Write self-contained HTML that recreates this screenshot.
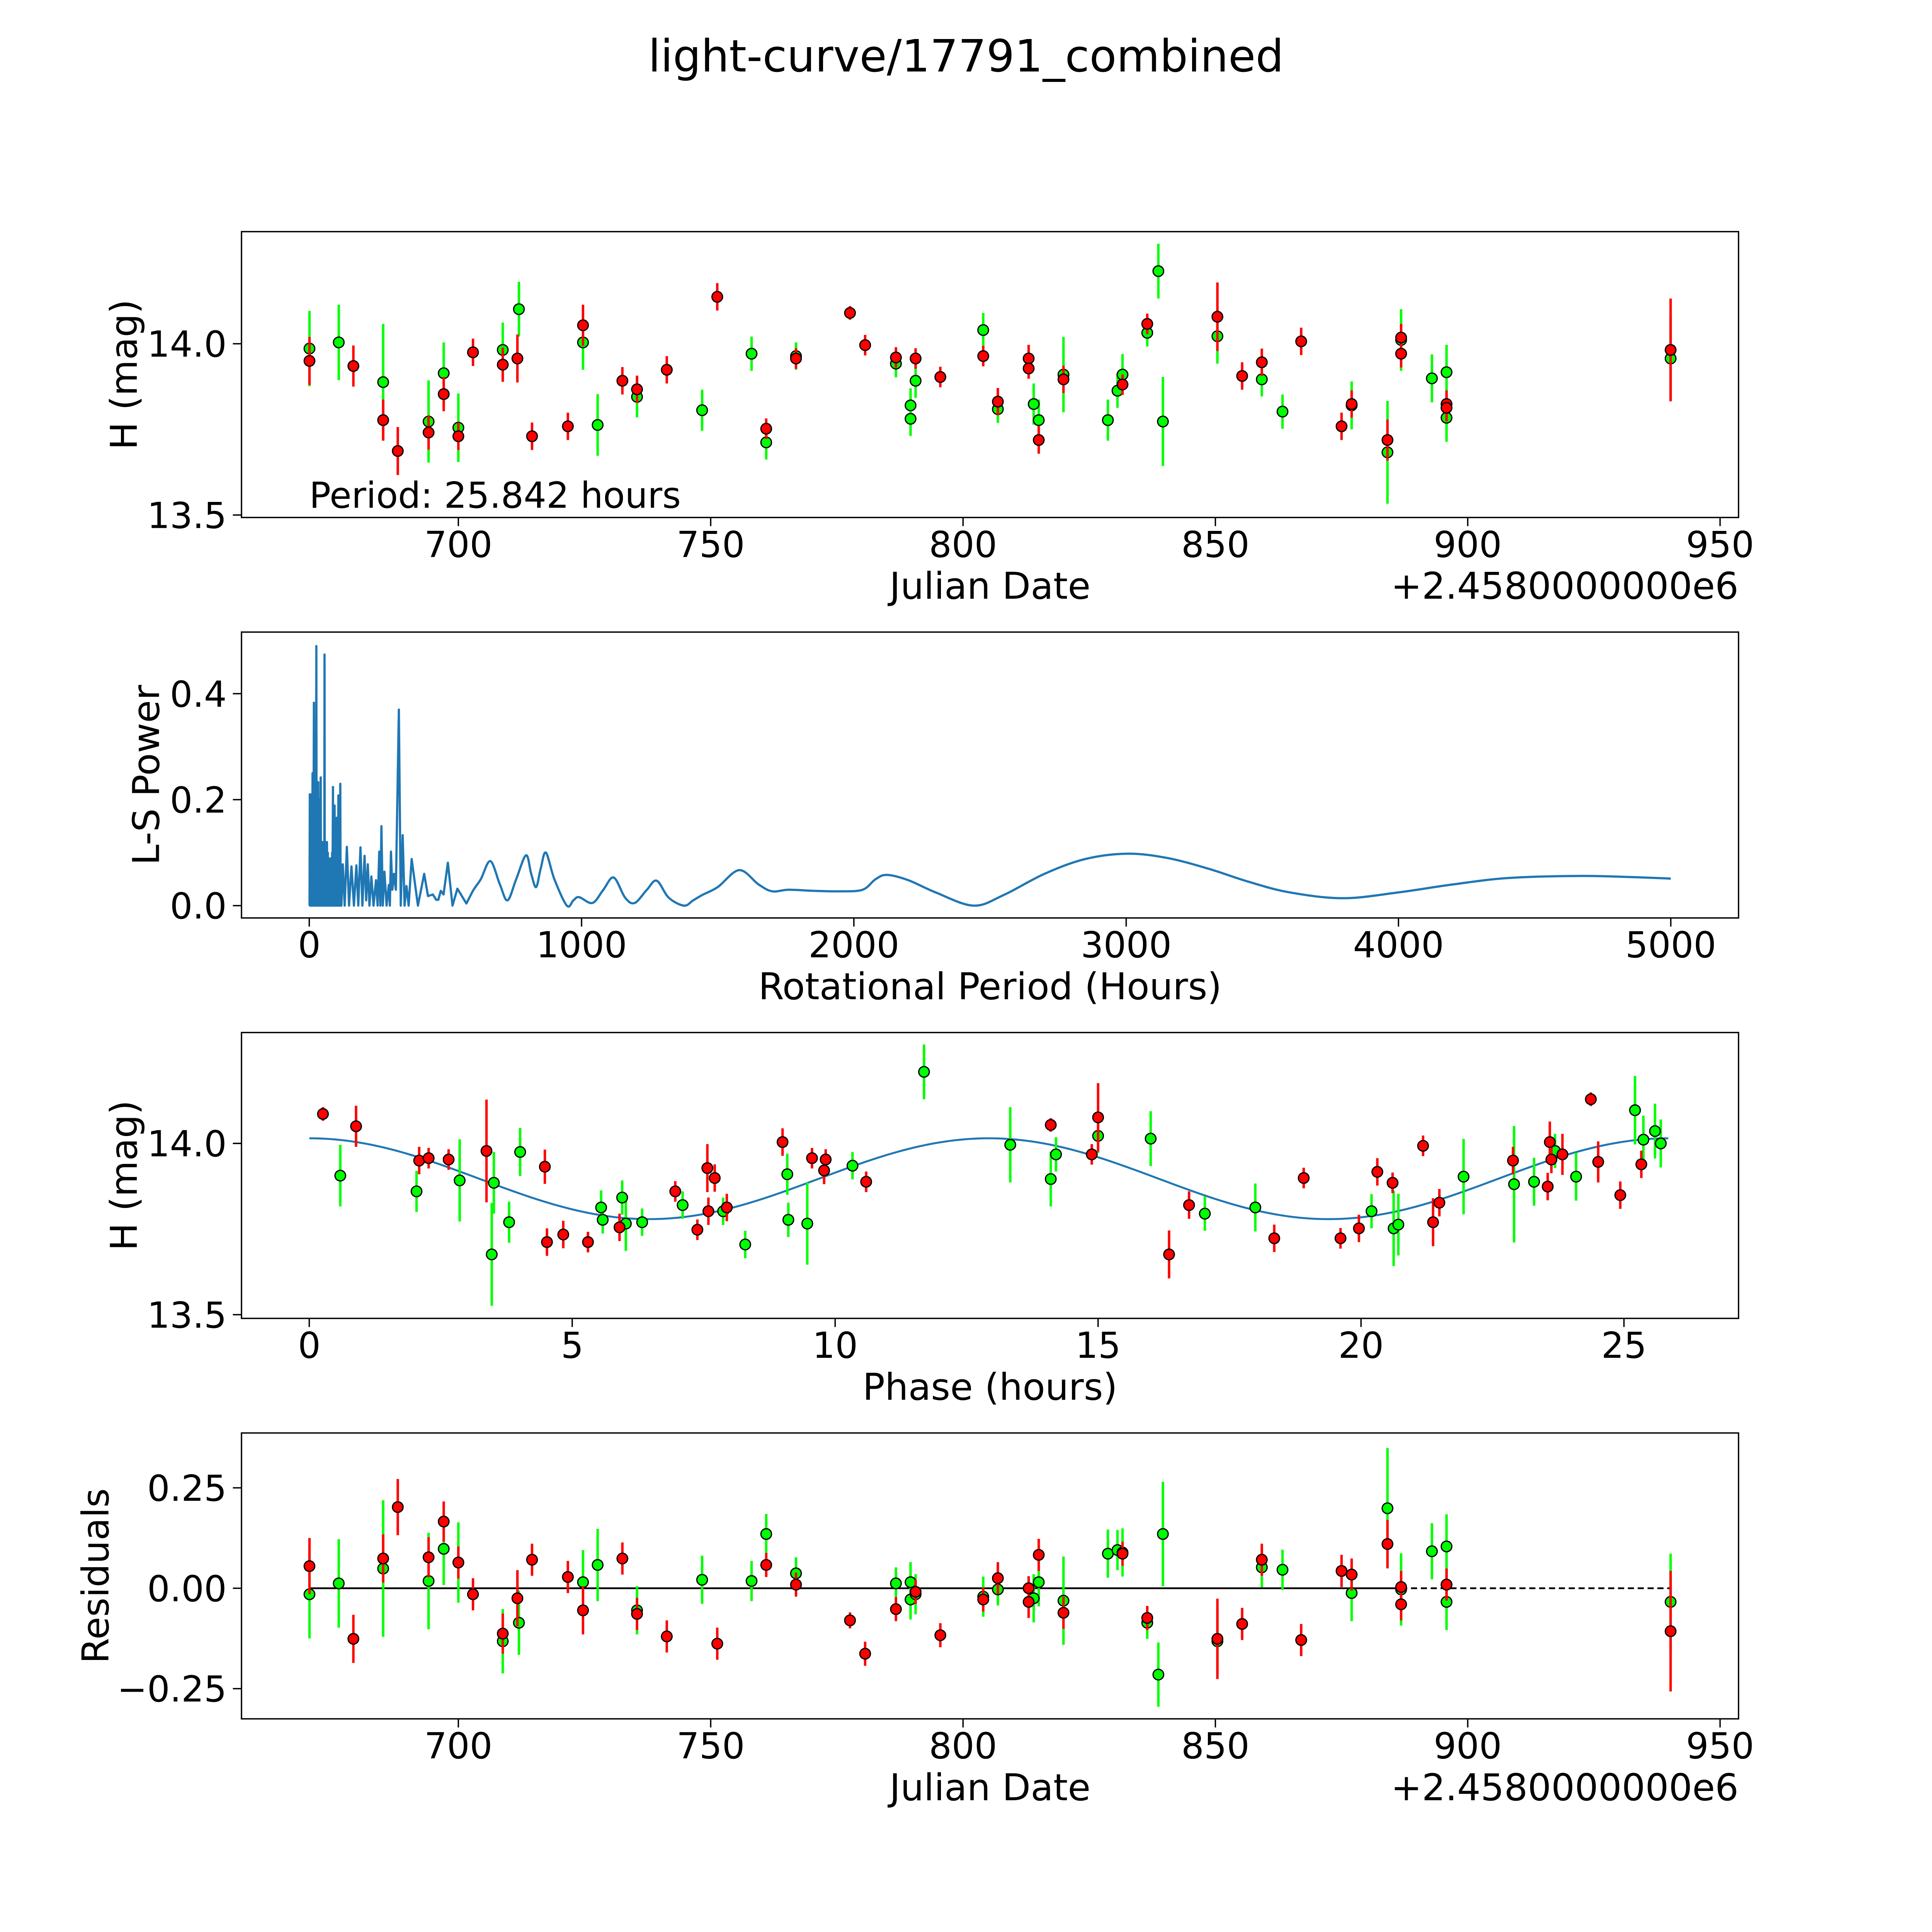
<!DOCTYPE html>
<html><head><meta charset="utf-8"><style>
html,body{margin:0;padding:0;background:#fff;overflow:hidden;}
svg{display:block;width:100vw;height:100vh;font-family:"DejaVu Sans","Liberation Sans",sans-serif;}
</style></head><body>
<svg id="fig" xmlns="http://www.w3.org/2000/svg" viewBox="0 0 1568 1568" preserveAspectRatio="none">
<rect x="0" y="0" width="1568" height="1568" fill="#fff"/>
<text x="784" y="58" font-size="36" text-anchor="middle">light-curve/17791_combined</text>
</svg>
<script>
// ---------- Panel 1: light curve ----------
const lcGreenDate=[670.5,676.3,685.1,694.1,697.1,700,708.8,712.0,724.7,727.6,735.4,748.3,758.1,761.0,766.9,786.7,789.6,789.6,790.6,804.0,806.9,814.0,815.0,819.9,828.7,830.6,831.6,836.5,838.7,839.6,850.4,859.2,863.3,877.0,884.1,886.8,892.9,895.8,895.8,940.2];
const lcGreenMag=[13.986,14.004,13.888,13.773,13.914,13.755,13.982,14.101,14.004,13.763,13.845,13.806,13.971,13.712,13.964,13.942,13.820,13.781,13.892,14.040,13.809,13.824,13.777,13.910,13.777,13.863,13.910,14.032,14.212,13.773,14.022,13.896,13.802,13.820,13.683,14.011,13.899,13.917,13.784,13.957];
const lcGreenErr=[0.11,0.11,0.17,0.12,0.09,0.1,0.08,0.08,0.08,0.09,0.06,0.06,0.05,0.05,0.04,0.04,0.05,0.05,0.05,0.05,0.04,0.06,0.06,0.11,0.06,0.05,0.06,0.04,0.08,0.13,0.08,0.05,0.05,0.07,0.15,0.09,0.07,0.08,0.07,0.12];
const lcRedDate=[670.5,679.2,685.1,688.0,694.1,697.1,700,702.9,708.8,711.7,714.6,721.7,724.7,732.5,735.4,741.3,751.3,761.0,766.9,777.6,780.6,786.7,790.6,795.5,804.0,806.9,813.0,813.0,815.0,819.9,831.6,836.5,850.4,855.3,859.2,867.0,875.0,877.0,884.1,886.8,886.8,895.8,895.8,940.2];
const lcRedMag=[13.950,13.935,13.777,13.687,13.741,13.853,13.730,13.975,13.939,13.957,13.730,13.759,14.054,13.892,13.867,13.924,14.137,13.752,13.957,14.090,13.996,13.960,13.957,13.903,13.964,13.831,13.957,13.928,13.719,13.896,13.881,14.058,14.079,13.906,13.946,14.007,13.759,13.824,13.719,14.018,13.971,13.824,13.813,13.982];
const lcRedErr=[0.07,0.06,0.06,0.07,0.05,0.05,0.04,0.04,0.05,0.07,0.04,0.04,0.06,0.04,0.04,0.04,0.04,0.03,0.03,0.02,0.03,0.03,0.03,0.03,0.03,0.04,0.04,0.03,0.04,0.04,0.03,0.03,0.1,0.04,0.04,0.04,0.04,0.04,0.06,0.04,0.04,0.04,0.04,0.15];
const lcXTicks=[700,750,800,850,900,950];
const lcYTicks=[13.5,14.0];
// ---------- Panel 2: periodogram ----------
const pgPeriod=[1,2,3,4,5,6,7,8,9,10,11,12,13,14,15,17,18,20,21,23,24,26,27,29,30,32,33,34,36,37,39,40,42,43,45,46,48,49,51,52,54,55,56,57,59,60,62,63,65,66,68,69,71,72,75,76,78,79,81,82,84,85,87,88,90,91,93,94,96,97,99,100,101,102,104,105,107,108,110,111,114,115,117,118,
123,130,138,146,155,164,173,180,188,195,203,209,215,221,228,236,245,251,257,261,265,270,276,284,292,296,300,305,311,318,329,336,343,350,357,365,376,399,422,436,454,466,474,483,493,509,526,544,577,601,
630,665,700,728,760,796,815,833,850,869,900,946,970,991,1040,1080,1118,1160,1195,1240,1276,1320,1376,1410,1443,1500,1579,1650,1700,1760,1850,1950,2032,2080,2122,2200,2300,2439,2550,2700,2850,3005,3150,3300,3450,3600,3796,4000,4200,4400,4656,4850,5000];
const pgPower=[0.0,0.21,0.0,0.2,0.0,0.21,0.0,0.19,0.0,0.21,0.0,0.25,0.0,0.22,0.0,0.383,0.0,0.2,0.0,0.22,0.0,0.49,0.0,0.2,0.0,0.18,0.233,0.0,0.2,0.0,0.15,0.0,0.242,0.0,0.12,0.0,0.12,0.0,0.1,0.0,0.11,0.0,0.474,0.0,0.12,0.0,0.11,0.0,0.12,0.0,0.1,0.0,0.09,0.0,0.088,0.0,0.08,0.0,0.09,0.0,0.1,0.0,0.224,0.0,0.15,0.0,0.189,0.0,0.15,0.0,0.13,0.0,0.166,0.0,0.12,0.0,0.208,0.0,0.15,0.0,0.23,0.0,0.05,0.0,
0.078,0.0,0.111,0.0,0.074,0.0,0.076,0.0,0.11,0.0,0.094,0.01,0.078,0.0,0.055,0.0,0.048,0.0,0.102,0.0,0.15,0.0,0.064,0.0,0.039,0.0,0.102,0.03,0.06,0.03,0.37,0.0,0.133,0.0,0.037,0.0,0.088,0.0,0.06,0.018,0.021,0.011,0.011,0.028,0.021,0.081,0.0,0.032,0.004,0.028,
0.05,0.084,0.04,0.01,0.05,0.095,0.06,0.035,0.07,0.1,0.05,0.0,0.01,0.016,0.005,0.03,0.053,0.015,0.005,0.03,0.047,0.015,0.0,0.01,0.02,0.035,0.067,0.04,0.027,0.03,0.028,0.027,0.03,0.05,0.058,0.048,0.025,0.0,0.02,0.06,0.088,0.098,0.09,0.07,0.045,0.025,0.014,0.025,0.04,0.052,0.056,0.054,0.051];
const pgSmoothFrom=601;
const pgXTicks=[0,1000,2000,3000,4000,5000];
const pgYTicks=[0.0,0.2,0.4];
// ---------- Panel 3: phased ----------
const phRedPhase=[0.26,0.89,2.09,2.27,2.65,3.37,4.48,4.52,4.83,5.30,5.90,6.96,7.38,7.57,7.71,7.59,7.94,9.00,9.56,9.79,9.82,10.59,14.10,14.88,15.00,16.35,16.73,18.35,18.91,19.61,19.96,20.31,20.60,21.18,21.37,21.49,22.89,23.59,23.62,23.83,24.37,24.51,24.93,25.33,23.55];
const phRedMag=[14.086,14.050,13.950,13.957,13.953,13.978,13.932,13.712,13.734,13.712,13.755,13.860,13.748,13.928,13.899,13.802,13.813,14.004,13.957,13.921,13.953,13.888,14.054,13.968,14.076,13.676,13.820,13.723,13.899,13.723,13.752,13.917,13.885,13.993,13.770,13.827,13.950,14.004,13.953,13.968,14.129,13.946,13.849,13.939,13.874];
const phRedErr=[0.02,0.06,0.04,0.03,0.03,0.15,0.05,0.04,0.04,0.03,0.04,0.03,0.03,0.07,0.04,0.04,0.04,0.04,0.03,0.04,0.03,0.03,0.02,0.03,0.1,0.07,0.04,0.04,0.03,0.03,0.04,0.04,0.03,0.03,0.07,0.04,0.04,0.06,0.04,0.06,0.02,0.06,0.04,0.04,0.04];
const phGreenPhase=[0.59,2.04,2.86,3.47,3.51,3.80,4.01,5.55,5.58,5.95,6.02,6.33,7.10,7.87,8.29,9.09,9.11,9.47,10.33,11.69,13.33,14.10,14.20,15.00,16.00,17.03,17.99,20.20,20.62,20.71,21.95,22.91,23.29,23.69,24.09,25.21,25.37,25.59,25.70];
const phGreenMag=[13.906,13.860,13.892,13.676,13.885,13.770,13.975,13.813,13.777,13.842,13.766,13.770,13.820,13.802,13.705,13.910,13.777,13.766,13.935,14.209,13.996,13.896,13.968,14.022,14.014,13.795,13.813,13.802,13.752,13.763,13.903,13.881,13.888,13.978,13.903,14.097,14.011,14.036,14.000];
const phGreenErr=[0.09,0.06,0.12,0.15,0.09,0.06,0.07,0.05,0.04,0.05,0.08,0.04,0.04,0.04,0.04,0.06,0.05,0.12,0.04,0.08,0.11,0.08,0.05,0.05,0.08,0.05,0.07,0.05,0.11,0.09,0.11,0.17,0.07,0.05,0.07,0.1,0.07,0.08,0.07];
const modelPeriod=25.842, modelMean=13.897, modelAmp=0.118;
const phXTicks=[0,5,10,15,20,25];
const phYTicks=[13.5,14.0];
// ---------- Panel 4: residuals ----------
const resGreen=[-0.015,0.012,0.049,0.018,0.098,0.064,-0.132,-0.086,0.015,0.058,-0.055,0.021,0.018,0.135,0.037,0.012,0.015,-0.028,-0.015,-0.021,-0.003,-0.025,0.015,-0.031,0.086,0.095,0.089,-0.086,-0.215,0.135,-0.132,0.052,0.046,-0.012,0.199,-0.003,0.092,0.104,-0.034,-0.034];
const resRed=[0.055,-0.126,0.074,0.202,0.077,0.166,0.064,-0.015,-0.113,-0.025,0.071,0.028,-0.055,0.074,-0.064,-0.120,-0.138,0.058,0.009,-0.080,-0.163,-0.052,-0.009,-0.117,-0.028,0.025,-0.034,0.0,0.083,-0.061,0.086,-0.074,-0.126,-0.089,0.071,-0.129,0.043,0.034,0.110,-0.040,0.003,0.009,0.009,-0.107];
const resXTicks=[700,750,800,850,900,950];
const resYTicks=[-0.25,0.0,0.25];
const resYTickLabels=["\u22120.25","0.00","0.25"];

const NS="http://www.w3.org/2000/svg";
const svg=document.getElementById('fig');
function mk(tag,attrs,parent){const e=document.createElementNS(NS,tag);for(const k in attrs)e.setAttribute(k,attrs[k]);(parent||svg).appendChild(e);return e;}
function lin(d0,d1,p0,p1){return v=>p0+(v-d0)*(p1-p0)/(d1-d0);}

function axes(name,box,sx,sy,xt,yt,xtl,ytl,xlabel,ylabel,ylabX,offset){
  const g=mk('g',{});
  
  
  xt.forEach((v,i)=>{const x=sx(v);
    const t=mk('line',{x1:x,x2:x,y1:box[3],y2:box[3]+7,stroke:'#000','stroke-width':1.1},g);
    
    
    const l=mk('text',{x:x,y:box[3]+32,'font-size':29,'text-anchor':'middle'},g);l.textContent=xtl?xtl[i]:String(v);
    
    });
  yt.forEach((v,i)=>{const y=sy(v);
    const t=mk('line',{x1:box[0]-7,x2:box[0],y1:y,y2:y,stroke:'#000','stroke-width':1.1},g);
    
    
    const l=mk('text',{x:box[0]-12,y:y+10.5,'font-size':29,'text-anchor':'end'},g);l.textContent=ytl?ytl[i]:v.toFixed(1);
    
    });
  const xl=mk('text',{x:(box[0]+box[2])/2,y:box[3]+66,'font-size':30,'text-anchor':'middle'},g);xl.textContent=xlabel;
  
  
  const cy=(box[1]+box[3])/2;
  const yl=mk('text',{x:0,y:0,'font-size':30,'text-anchor':'middle',transform:`translate(${ylabX},${cy}) rotate(-90)`},g);yl.textContent=ylabel;
  
  
  if(offset){const o=mk('text',{x:box[2],y:box[3]+66,'font-size':30,'text-anchor':'end'},g);o.textContent=offset;
    
    }
  return g;
}
function frame(g,box,name){
  const fr=mk('rect',{x:box[0],y:box[1],width:box[2]-box[0],height:box[3]-box[1],fill:'none',stroke:'#000','stroke-width':1.1},g);
  
  
}
function points(g,xs,ys,errs,col,sx,sy,name){
  const pg=mk('g',{},g);
  
  
  xs.forEach((xv,i)=>{const x=sx(xv);
    const e=mk('line',{x1:x,x2:x,y1:sy(ys[i]-errs[i]),y2:sy(ys[i]+errs[i]),stroke:col,'stroke-width':2},pg);
    
    });
  xs.forEach((xv,i)=>{const c=mk('circle',{cx:sx(xv),cy:sy(ys[i]),r:4.3,fill:col,stroke:'#000','stroke-width':1},pg);
    
    });
}

// Panel 1
{const box=[196,188,1411,420];const sx=lin(700,950,372,1396),sy=lin(13.5,14.0,418,279);
 const g=axes('light-curve-axes',box,sx,sy,lcXTicks,lcYTicks,null,null,'Julian Date','H (mag)',box[0]-85,'+2.4580000000e6');
 points(g,lcGreenDate,lcGreenMag,lcGreenErr,'#00ff00',sx,sy,'green-series');
 points(g,lcRedDate,lcRedMag,lcRedErr,'#ff0000',sx,sy,'red-series');
 frame(g,box,'light-curve');
 const t=mk('text',{x:251,y:412,'font-size':29},g);t.textContent='Period: 25.842 hours';
 
 }
// Panel 2
{const box=[196,513,1411,745];const sx=lin(0,5000,251,1356),sy=lin(0,0.4,735,563);
 const g=axes('periodogram-axes',box,sx,sy,pgXTicks,pgYTicks,null,null,'Rotational Period (Hours)','L-S Power',box[0]-67,null);
 const P=pgPeriod.map((p,i)=>[sx(p),sy(pgPower[i])]);
 let d='';
 for(let i=0;i<P.length;i++){
   if(i===0){d+='M'+P[0][0].toFixed(2)+' '+P[0][1].toFixed(2);continue;}
   if(pgPeriod[i-1]<pgSmoothFrom){d+=' L'+P[i][0].toFixed(2)+' '+P[i][1].toFixed(2);continue;}
   const p0=P[Math.max(i-2,0)],p1=P[i-1],p2=P[i],p3=P[Math.min(i+1,P.length-1)];
   const c1x=p1[0]+(p2[0]-p0[0])/6,c1y=p1[1]+(p2[1]-p0[1])/6;
   const c2x=p2[0]-(p3[0]-p1[0])/6,c2y=p2[1]-(p3[1]-p1[1])/6;
   d+=` C${c1x.toFixed(2)} ${c1y.toFixed(2)} ${c2x.toFixed(2)} ${c2y.toFixed(2)} ${p2[0].toFixed(2)} ${p2[1].toFixed(2)}`;
 }
 const p=mk('path',{d:d,fill:'none',stroke:'#1f77b4','stroke-width':1.8,'stroke-linejoin':'round'},g);
 
 
 frame(g,box,'periodogram');}
// Panel 3
{const box=[196,838,1411,1070];const sx=lin(0,25,251,1318),sy=lin(13.5,14.0,1067,928);
 const g=axes('phase-axes',box,sx,sy,phXTicks,phYTicks,null,null,'Phase (hours)','H (mag)',box[0]-85,null);
 let d='';for(let i=0;i<=200;i++){const t=modelPeriod*i/200;const m=modelMean+modelAmp*Math.cos(4*Math.PI*t/modelPeriod);d+=(i?'L':'M')+sx(t).toFixed(2)+' '+sy(m).toFixed(2)+' ';}
 const p=mk('path',{d:d,fill:'none',stroke:'#1f77b4','stroke-width':1.6},g);
 
 
 points(g,phGreenPhase,phGreenMag,phGreenErr,'#00ff00',sx,sy,'green-phase-series');
 points(g,phRedPhase,phRedMag,phRedErr,'#ff0000',sx,sy,'red-phase-series');
 frame(g,box,'phase');}
// Panel 4
{const box=[196,1163,1411,1395];const sx=lin(700,950,372,1396),sy=lin(0,0.25,1289,1207.5);
 const g=axes('residuals-axes',box,sx,sy,resXTicks,resYTicks,null,resYTickLabels,'Julian Date','Residuals',box[0]-108,'+2.4580000000e6');
 const l1=mk('line',{x1:sx(670.5),x2:sx(886.8),y1:sy(0),y2:sy(0),stroke:'#000','stroke-width':1.4},g);
 
 
 const l2=mk('line',{x1:sx(886.8),x2:sx(940.2),y1:sy(0),y2:sy(0),stroke:'#000','stroke-width':1.4,'stroke-dasharray':'5 3'},g);
 
 
 points(g,lcGreenDate,resGreen,lcGreenErr,'#00ff00',sx,sy,'green-residuals');
 points(g,lcRedDate,resRed,lcRedErr,'#ff0000',sx,sy,'red-residuals');
 frame(g,box,'residuals');}
</script>
</body></html>
